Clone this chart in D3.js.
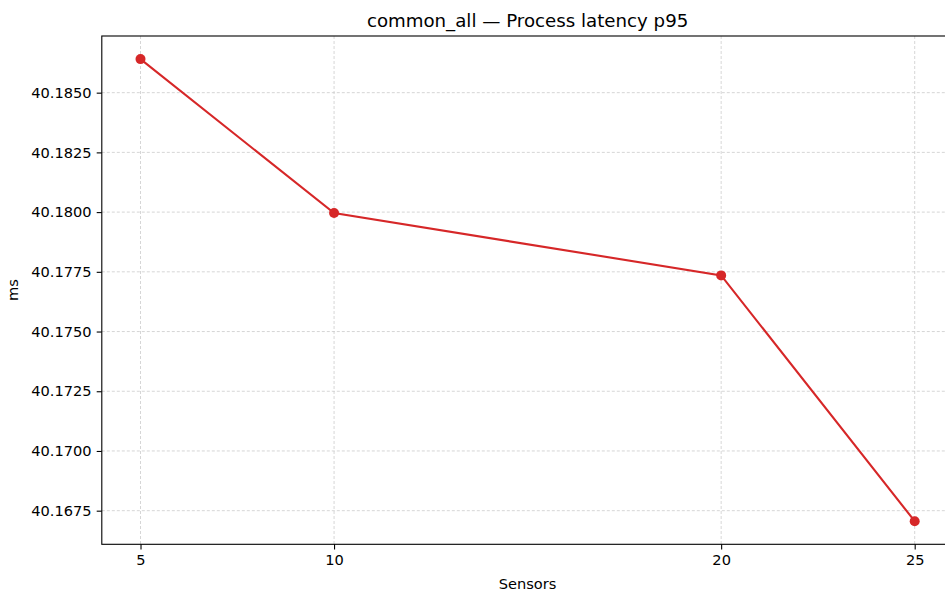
<!DOCTYPE html>
<html>
<head>
<meta charset="utf-8">
<script src="https://cdn.jsdelivr.net/npm/d3@7"></script>
<style>
  html, body { margin: 0; padding: 0; background: #fff; }
  svg { display: block; font-family: "DejaVu Sans", sans-serif; }
</style>
</head>
<body>
<svg id="chart" width="945" height="592"></svg>
<script>
// Process latency p95 per sensor count
const sensors = [5, 10, 20, 25];
const latencyP95 = [40.186405, 40.17996, 40.17735, 40.16706];
const xTicks = [5, 10, 20, 25];
const yTicks = [40.1675, 40.1700, 40.1725, 40.1750, 40.1775, 40.1800, 40.1825, 40.1850];

const svg = d3.select("#chart");
const m = { left: 101.8, right: 953.4, top: 36, bottom: 544.3 };

const x = d3.scaleLinear().domain([4, 26]).range([m.left, m.right]);
const yMin = d3.min(latencyP95), yMax = d3.max(latencyP95);
const pad = (yMax - yMin) * 0.05;
const y = d3.scaleLinear().domain([yMin - pad, yMax + pad]).range([m.bottom, m.top]);

const fs = 14.6;
const tick = 5.1;

// grid
const grid = svg.append("g");
grid.selectAll(".gx").data(xTicks).join("line")
  .attr("x1", d => x(d)).attr("x2", d => x(d))
  .attr("y1", m.top).attr("y2", m.bottom)
  .attr("stroke", "#c4c4c4").attr("stroke-width", 0.7).attr("stroke-dasharray", "3,2");
grid.selectAll(".gy").data(yTicks).join("line")
  .attr("x1", m.left).attr("x2", m.right)
  .attr("y1", d => y(d)).attr("y2", d => y(d))
  .attr("stroke", "#c4c4c4").attr("stroke-width", 0.7).attr("stroke-dasharray", "3,2");

// axes
const xAxis = d3.axisBottom(x).tickValues(xTicks).tickFormat(d3.format("d"))
  .tickSize(tick).tickPadding(tick).tickSizeOuter(0);
const yAxis = d3.axisLeft(y).tickValues(yTicks).tickFormat(d3.format(".4f"))
  .tickSize(tick).tickPadding(tick).tickSizeOuter(0);

const gx = svg.append("g").attr("transform", `translate(0,${m.bottom})`).call(xAxis);
const gy = svg.append("g").attr("transform", `translate(${m.left},0)`).call(yAxis);
[gx, gy].forEach(g => {
  g.select(".domain").remove();
  g.selectAll(".tick line").attr("stroke", "#000").attr("stroke-width", 1.1);
  g.selectAll(".tick text").attr("fill", "#000").style("font-size", fs + "px")
    .style("font-family", "DejaVu Sans");
});

// spines
svg.append("rect")
  .attr("x", m.left).attr("y", m.top)
  .attr("width", m.right - m.left).attr("height", m.bottom - m.top)
  .attr("fill", "none").attr("stroke", "#000").attr("stroke-width", 1.1);

// series
const line = d3.line().x((d, i) => x(sensors[i])).y(d => y(d));
svg.append("path").datum(latencyP95)
  .attr("d", line).attr("fill", "none")
  .attr("stroke", "#d62728").attr("stroke-width", 2.1);
svg.selectAll(".pt").data(latencyP95).join("circle")
  .attr("cx", (d, i) => x(sensors[i])).attr("cy", d => y(d))
  .attr("r", 5).attr("fill", "#d62728");

// labels
svg.append("text").attr("x", (m.left + m.right) / 2).attr("y", 27)
  .attr("text-anchor", "middle").style("font-size", "18.2px").attr("fill", "#000")
  .text("common_all — Process latency p95");
svg.append("text").attr("x", (m.left + m.right) / 2).attr("y", 589)
  .attr("text-anchor", "middle").style("font-size", fs + "px").attr("fill", "#000")
  .text("Sensors");
svg.append("text")
  .attr("transform", `translate(17.5,${(m.top + m.bottom) / 2}) rotate(-90)`)
  .attr("text-anchor", "middle").style("font-size", fs + "px").attr("fill", "#000")
  .text("ms");
</script>
</body>
</html>
